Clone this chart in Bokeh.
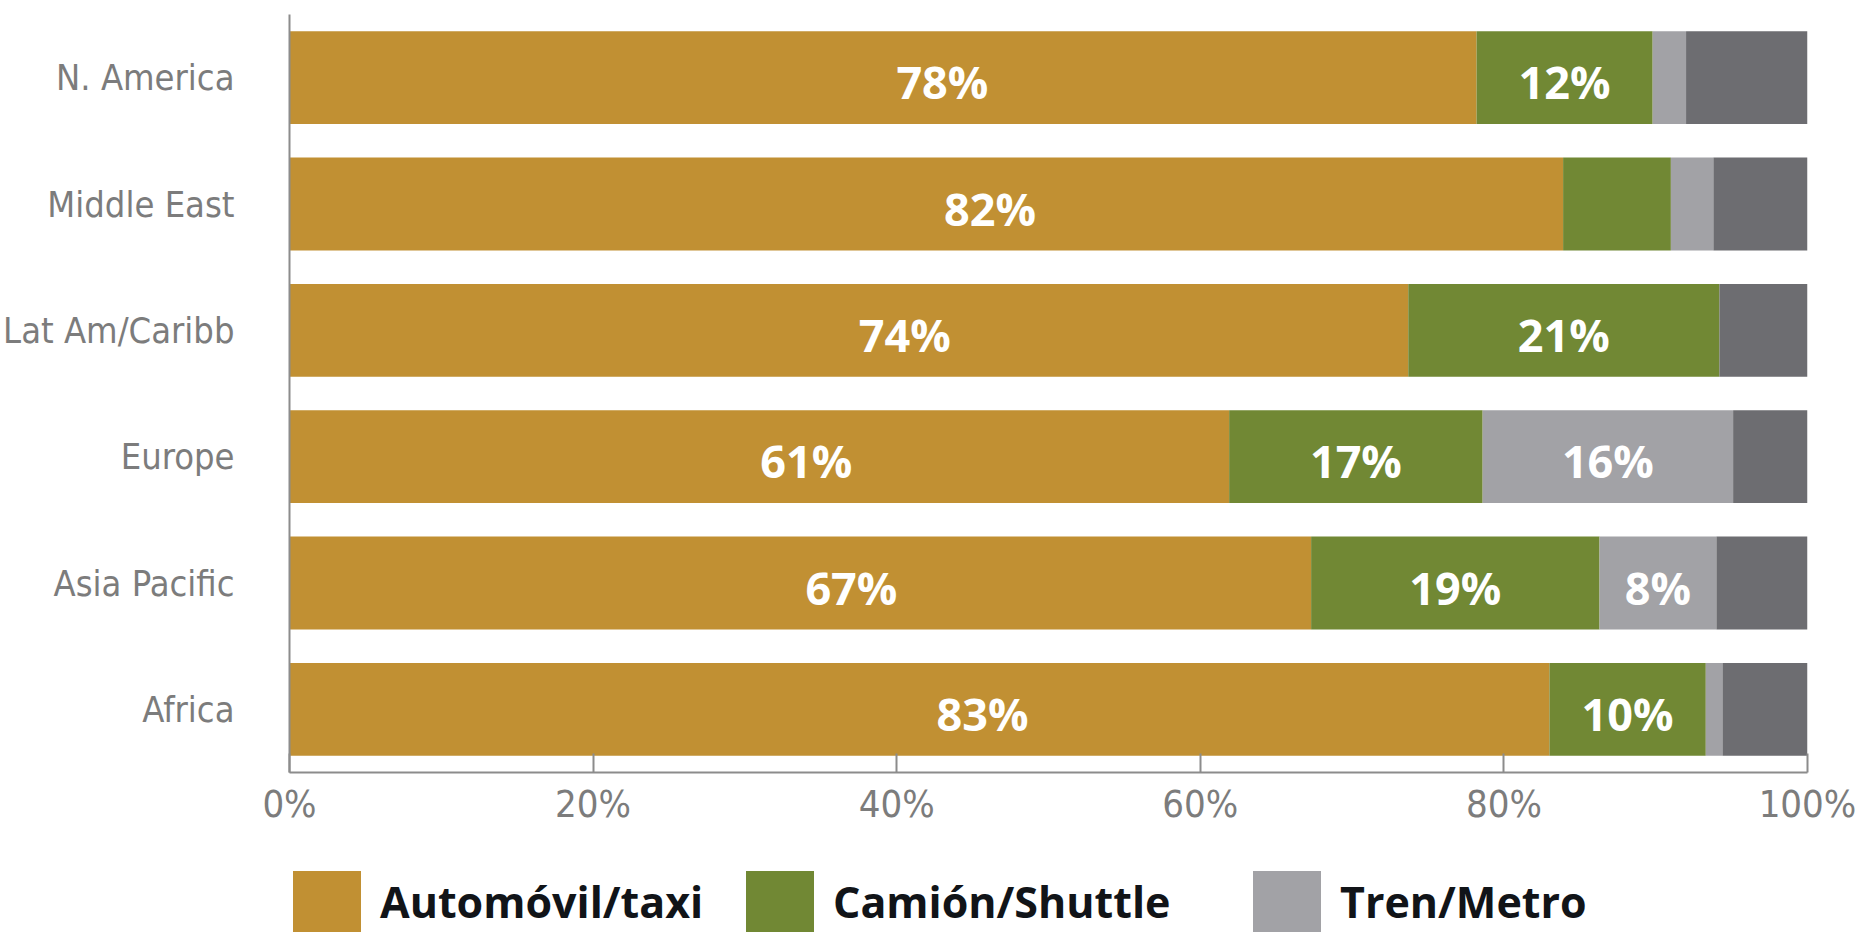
from bokeh.plotting import figure
from bokeh.layouts import column
from bokeh.models import ColumnDataSource, FactorRange, Range1d, Legend, LegendItem, FixedTicker
from bokeh.core.properties import value
from bokeh.embed import file_html
from bokeh.resources import INLINE

# ---- data ----
regions = ["N. America", "Middle East", "Lat Am/Caribb", "Europe", "Asia Pacific", "Africa"]
automovil = [78.2, 83.9, 73.7, 61.9, 67.3, 83.0]
camion = [11.6, 7.1, 20.5, 16.7, 19.0, 10.3]
tren = [2.2, 2.8, 0.0, 16.5, 7.7, 1.1]
otro = [8.0, 6.2, 5.8, 4.9, 6.0, 5.6]
auto_labels = ["78%", "82%", "74%", "61%", "67%", "83%"]
camion_labels = ["12%", "", "21%", "17%", "19%", "10%"]
tren_labels = ["", "", "", "16%", "8%", ""]
series_names = ["Automóvil/taxi", "Camión/Shuttle", "Tren/Metro"]
x_ticks = [0, 20, 40, 60, 80, 100]

# ---- styles ----
colors = ["#C19033", "#718834", "#A2A2A6", "#6D6D71"]
narrow = "'DejaVu Sans Condensed', 'Liberation Sans Narrow', sans-serif"
axis_grey = "#8c8c8c"
label_grey = "#7c7c7c"

W = 1863
src = ColumnDataSource(dict(region=regions, auto=automovil, camion=camion, tren=tren, otro=otro))

p = figure(
    width=W, height=860,
    y_range=FactorRange(factors=regions[::-1]),
    x_range=Range1d(0, 100),
    output_backend="svg", toolbar_location=None,
    min_border_left=289, min_border_right=56, min_border_top=14, min_border_bottom=88,
)
p.outline_line_color = None
p.xgrid.visible = False
p.ygrid.visible = False
p.background_fill_color = "white"
p.border_fill_color = "white"

renderers = p.hbar_stack(["auto", "camion", "tren", "otro"], y="region", height=0.735,
                         color=colors, line_color=None, source=src)

# value labels
lab_x, lab_y, lab_t = [], [], []
for i, reg in enumerate(regions):
    a, c, t = automovil[i], camion[i], tren[i]
    if auto_labels[i]:
        lab_x.append(a * 0.55); lab_y.append(reg); lab_t.append(auto_labels[i])
    if camion_labels[i]:
        lab_x.append(a + c / 2); lab_y.append(reg); lab_t.append(camion_labels[i])
    if tren_labels[i]:
        lab_x.append(a + c + t / 2); lab_y.append(reg); lab_t.append(tren_labels[i])
lsrc = ColumnDataSource(dict(x=lab_x, y=lab_y, t=lab_t))
p.text(x="x", y="y", text="t", source=lsrc, text_align="center", text_baseline="middle",
       text_color="white", text_font=value("Open Sans"), text_font_style="bold",
       text_font_size="45px", y_offset=4)

# x axis
p.xaxis.ticker = FixedTicker(ticks=x_ticks)
p.xaxis.major_label_overrides = {t: f"{t}%" for t in x_ticks}
p.xaxis.axis_line_color = axis_grey
p.xaxis.axis_line_width = 2
p.xaxis.major_tick_line_color = axis_grey
p.xaxis.major_tick_line_width = 2
p.xaxis.major_tick_in = 19
p.xaxis.major_tick_out = 0
p.xaxis.minor_tick_line_color = None
p.xaxis.major_label_standoff = 9
p.xaxis.major_label_text_font = narrow
p.xaxis.major_label_text_font_size = "38px"
p.xaxis.major_label_text_color = label_grey

# y axis
p.yaxis.axis_line_color = axis_grey
p.yaxis.axis_line_width = 2
p.yaxis.major_tick_line_color = None
p.yaxis.minor_tick_line_color = None
p.yaxis.major_label_standoff = 49
p.yaxis.major_label_text_font = narrow
p.yaxis.major_label_text_font_size = "36px"
p.yaxis.major_label_text_color = label_grey

# legend strip below the chart (its frame is aligned with the chart frame)
lg = figure(width=W, height=76, x_range=Range1d(0, 1), y_range=Range1d(0, 1),
            output_backend="svg", toolbar_location=None,
            min_border_left=289, min_border_right=56, min_border_top=0, min_border_bottom=0)
lg.axis.visible = False
lg.xgrid.visible = False
lg.ygrid.visible = False
lg.outline_line_color = None
lg.border_fill_color = "white"
lg.background_fill_color = "white"

legend_x = [-5, 448, 955]
for name, col, lx in zip(series_names, colors[:3], legend_x):
    # off-screen, zero-width proxy glyph: only used to draw the legend swatch
    r = lg.hbar(y=[-5], left=[0], right=[0], height=0.1, color=col, line_color=None)
    leg = Legend(items=[LegendItem(label=name, renderers=[r])], location=(lx, -3),
                 orientation="horizontal", glyph_width=85, glyph_height=76,
                 label_standoff=11, padding=0, margin=0, spacing=0,
                 border_line_color=None, background_fill_alpha=0,
                 label_text_font="Open Sans", label_text_font_style="bold",
                 label_text_font_size="43px", label_text_color="#111418")
    lg.add_layout(leg, "center")

layout = column(p, lg, spacing=0)
open("out.html", "w").write(file_html(layout, INLINE))
